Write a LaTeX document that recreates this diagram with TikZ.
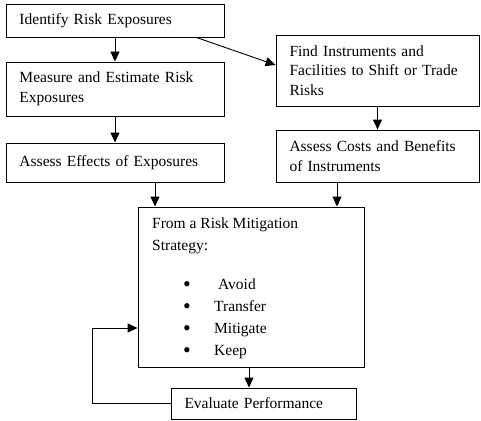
\documentclass[tikz,border=0pt]{standalone}
\usepackage{fontspec}
\setmainfont{Liberation Serif}
\usetikzlibrary{arrows.meta}
\begin{document}
\begin{tikzpicture}[x=1pt,y=-1pt,
  box/.style={draw, line width=0.9pt, inner xsep=13.5pt, inner ysep=0pt, align=left,
    font=\fontsize{15.5}{19.5}\selectfont},
  txt/.style={inner sep=0pt, anchor=base west, font=\fontsize{15.5}{19.5}\selectfont},
  bul/.style={inner sep=0pt, anchor=center, font=\fontsize{22}{22}\selectfont},
  arr/.style={line width=0.9pt, -{Triangle[length=10pt,width=9pt]}}]
\useasboundingbox (0,0) rectangle (481,420);
\node[box, minimum width=218pt, minimum height=33pt, text width=191pt] (box1) at (115,20.5) {Identify Risk Exposures};
\node[box, minimum width=218pt, minimum height=54pt, text width=191pt] (box2) at (115,89) {Measure and Estimate Risk\\Exposures};
\node[box, minimum width=218pt, minimum height=39pt, text width=191pt] (box3) at (115,162.5) {Assess Effects of Exposures};
\node[box, minimum width=203pt, minimum height=71pt, text width=176pt] (box4) at (377.5,70.5) {Find Instruments and\\Facilities to Shift or Trade\\Risks};
\node[box, minimum width=203pt, minimum height=52pt, text width=176pt] (box5) at (377.5,156) {Assess Costs and Benefits\\of Instruments};
\node[box, minimum width=226pt, minimum height=160pt, text width=199pt] (big) at (251,287) {};
\node[box, minimum width=185pt, minimum height=31pt, text width=158pt] (eval) at (263.5,403.5) {Evaluate Performance};
% big box text
\node[txt] (l1) at (152,228) {From a Risk Mitigation};
\node[txt] (l2) at (152,250) {Strategy:};
\node[bul] (b1) at (187,287) {•};
\node[bul] (b2) at (187,309) {•};
\node[bul] (b3) at (187,331) {•};
\node[bul] (b4) at (187,353) {•};
\node[txt] (t1) at (218,289) {Avoid};
\node[txt] (t2) at (214,311) {Transfer};
\node[txt] (t3) at (214,333) {Mitigate};
\node[txt] (t4) at (214,355) {Keep};
% connectors
\coordinate (c1) at (155,0);
\coordinate (c2) at (337,0);
\coordinate (fb) at (92,328);
\draw[arr] (box1.south) -- (box2.north);
\draw[arr] (box2.south) -- (box3.north);
\draw[arr] ([xshift=-28pt]box1.south east) -- ([yshift=5.5pt]box4.west);
\draw[arr] (box4.south) -- (box5.north);
\draw[arr] (box3.south -| c1) -- (big.north -| c1);
\draw[arr] (box5.south -| c2) -- (big.north -| c2);
\draw[arr] ([xshift=-2pt]big.south) -- ([xshift=-2pt]big.south |- eval.north);
\draw[arr] (eval.west) -| (fb) -- (big.west |- fb);
\end{tikzpicture}
\end{document}
